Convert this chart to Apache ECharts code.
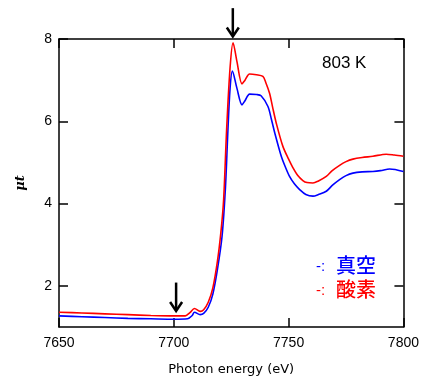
<!DOCTYPE html>
<html><head><meta charset="utf-8">
<script src="https://cdn.jsdelivr.net/npm/echarts@6/dist/echarts.min.js"></script>
<style>html,body{margin:0;padding:0;background:#fff}#c{width:422px;height:381px}</style>
</head><body><div id="c"></div>
<script>
const energyRed = [7650,7660,7670,7680,7690,7700,7705,7707,7709,7711.5,7713,7715,7717,7719,7720.5,7721.7,7723,7724.5,7725.8,7727.5,7729.7,7731,7733,7736,7738.8,7740,7741.7,7743,7744.6,7747.5,7750,7751.9,7754,7756.2,7758,7760.6,7763,7766.4,7769,7772.2,7775,7778,7782,7786.7,7792.5,7796,7800];
const muRed =     [1.36,1.34,1.32,1.30,1.28,1.27,1.27,1.35,1.45,1.38,1.42,1.60,1.95,2.60,3.30,4.10,5.80,7.30,7.91,7.45,6.91,7.00,7.15,7.13,7.09,6.95,6.68,6.35,5.96,5.39,5.08,4.87,4.68,4.56,4.51,4.50,4.55,4.66,4.80,4.93,5.02,5.08,5.12,5.15,5.20,5.18,5.15];
const energyBlue = [7650,7660,7670,7680,7690,7700,7706,7708,7709,7711.5,7713,7715,7717,7719,7721,7722.5,7723.5,7724.5,7725.5,7727.5,7729.7,7731,7733,7736,7738,7741,7742.5,7744,7746.8,7748.5,7750.4,7752.5,7754.8,7757.5,7760.6,7763,7766.4,7769,7772.2,7775,7778,7782,7786.7,7790,7794,7800];
const muBlue =     [1.27,1.25,1.23,1.21,1.20,1.19,1.20,1.28,1.36,1.30,1.33,1.48,1.80,2.40,3.20,4.40,5.70,6.80,7.22,6.80,6.40,6.50,6.66,6.65,6.62,6.36,6.05,5.71,5.15,4.90,4.66,4.48,4.34,4.22,4.18,4.22,4.30,4.44,4.58,4.68,4.74,4.77,4.78,4.80,4.84,4.78];
const xTicks = [7650,7700,7750,7800];
const yTicks = [2,4,6,8];
const arrowX = [7701, 7725.7];
const arrowTop = [2.08, 8.75];
const arrowTip = [1.39, 8.06];
const tempLabel = '803 K';
const legendMarks = ['-:','-:'];
const legendLabels = ['真空','酸素'];
const legendColors = ['#0000ff','#ff0000'];

const pairs = (xs, ys) => xs.map((x,i)=>[x, ys[i]]);
const chart = echarts.init(document.getElementById('c'));
const tickStyle = {color:'#000',width:1.5};
function xAx(pos, labels){
  return {type:'value',min:7650,max:7800,interval:50,position:pos,
    axisLine:{lineStyle:{color:'#000',width:1.5}},
    axisTick:{inside:true,length:9,lineStyle:tickStyle,customValues:xTicks},
    splitLine:{show:false},
    axisLabel: labels ? {fontFamily:'Liberation Sans',fontSize:14,color:'#000',margin:9,customValues:xTicks,formatter:v=>String(v)} : {show:false}};
}
function yAx(pos, labels){
  return {type:'value',min:1,max:8,position:pos,
    axisLine:{lineStyle:{color:'#000',width:1.5}},
    axisTick:{inside:true,length:9,lineStyle:tickStyle,customValues:yTicks},
    splitLine:{show:false},
    axisLabel: labels ? {fontFamily:'Liberation Sans',fontSize:14,color:'#000',margin:7,customValues:yTicks,formatter:v=>String(v)} : {show:false,customValues:yTicks}};
}
const xb = xAx('bottom',true);
Object.assign(xb,{name:'Photon energy (eV)',nameLocation:'middle',nameGap:36,
  nameTextStyle:{fontFamily:'DejaVu Sans',fontSize:13,color:'#000'}});
const yl = yAx('left',true);
Object.assign(yl,{name:'μt',nameLocation:'middle',nameGap:32,nameRotate:90,
  nameTextStyle:{fontFamily:'DejaVu Serif',fontStyle:'italic',fontWeight:'bold',fontSize:13,color:'#000'}});
chart.setOption({
  animation:false,
  backgroundColor:'#fff',
  grid:{left:59,right:18,top:39,bottom:53},
  xAxis:[xb, xAx('top',false)],
  yAxis:[yl, yAx('right',false)],
  series:[
    {type:'line',data:pairs(energyBlue,muBlue),showSymbol:false,smooth:0.3,
      lineStyle:{color:'#0000ff',width:1.6},z:3},
    {type:'line',data:pairs(energyRed,muRed),showSymbol:false,smooth:0.3,
      lineStyle:{color:'#ff0000',width:1.6},z:4}
  ]
});
const gfx = [];
arrowX.forEach((x,i)=>{
  const top = chart.convertToPixel({xAxisIndex:0,yAxisIndex:0},[x,arrowTop[i]]);
  const tip = chart.convertToPixel({xAxisIndex:0,yAxisIndex:0},[x,arrowTip[i]]);
  gfx.push({type:'line',shape:{x1:top[0],y1:top[1],x2:tip[0],y2:tip[1]-1},style:{stroke:'#000',lineWidth:2.5},z:10});
  gfx.push({type:'polyline',shape:{points:[[tip[0]-6,tip[1]-9],[tip[0],tip[1]],[tip[0]+6,tip[1]-9]]},style:{stroke:'#000',lineWidth:2.5,fill:null},z:10});
});
gfx.push({type:'text',left:322,top:55,style:{text:tempLabel,font:'17px "Liberation Sans"',fill:'#000'}});
legendLabels.forEach((t,i)=>{
  gfx.push({type:'text',left:316,top:259+i*24,style:{text:legendMarks[i],font:'15px "Liberation Sans"',fill:legendColors[i]}});
  gfx.push({type:'text',left:336,top:255+i*24,style:{text:t,font:'500 20px "Noto Sans CJK JP"',fill:legendColors[i]}});
});
chart.setOption({graphic:gfx});
</script>
</body></html>
